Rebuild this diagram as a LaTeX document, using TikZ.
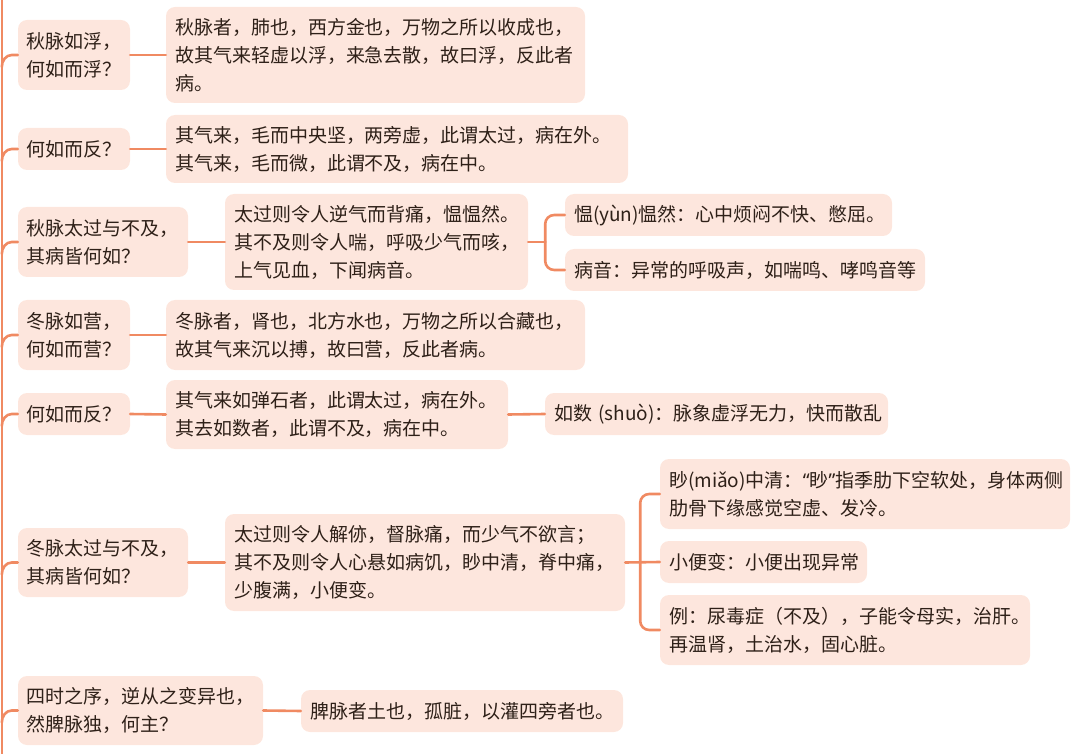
\documentclass[tikz,border=0pt]{standalone}
\usepackage{fontspec}
\setmainfont{Noto Sans CJK SC}
\newfontfamily\latinf{Noto Sans}
\usetikzlibrary{calc}
\definecolor{boxfill}{HTML}{FDE6DD}
\definecolor{linecol}{HTML}{F08A62}
\definecolor{txt}{HTML}{2E2018}
\tikzset{
  box/.style={draw=none, fill=boxfill, rounded corners=9pt, inner xsep=9pt, inner ysep=0pt,
    align=left, text=txt, font=\fontsize{19}{28}\selectfont},
  conn/.style={draw=linecol, line width=2.6pt, line cap=round},
}
\begin{document}
\begin{tikzpicture}[x=1pt,y=-1pt]
\useasboundingbox (0,0) rectangle (1080,754);
% spine
\draw[conn] (2,-5) -- (2,760);
% row 1
\node[box, text width=94, minimum height=70] (A1) at (74,55) {秋脉如浮，\\何如而浮？};
\node[box, text width=401, minimum height=96] (B1) at (375.5,55) {秋脉者，肺也，西方金也，万物之所以收成也，\\故其气来轻虚以浮，来急去散，故曰浮，反此者\\病。};
% row 2
\node[box, text width=94, minimum height=42] (A2) at (74,149) {何如而反？};
\node[box, text width=444, minimum height=68] (B2) at (397,149) {其气来，毛而中央坚，两旁虚，此谓太过，病在外。\\其气来，毛而微，此谓不及，病在中。};
% row 3
\node[box, text width=152, minimum height=70] (A3) at (103,242) {秋脉太过与不及，\\其病皆何如？};
\node[box, text width=285, minimum height=96] (B3) at (376.5,242) {太过则令人逆气而背痛，愠愠然。\\其不及则令人喘，呼吸少气而咳，\\上气见血，下闻病音。};
\node[box, text width=309, minimum height=42] (C3a) at (728.5,215) {愠(yùn)愠然：心中烦闷不快、憋屈。};
\node[box, text width=342, minimum height=42] (C3b) at (745,270) {病音：异常的呼吸声，如喘鸣、哮鸣音等};
% row 4
\node[box, text width=94, minimum height=70] (A4) at (74,335) {冬脉如营，\\何如而营？};
\node[box, text width=401, minimum height=70] (B4) at (375.5,335) {冬脉者，肾也，北方水也，万物之所以合藏也，\\故其气来沉以搏，故曰营，反此者病。};
% row 5
\node[box, text width=94, minimum height=42] (A5) at (74,414) {何如而反？};
\node[box, text width=324, minimum height=69] (B5) at (337,414.5) {其气来如弹石者，此谓太过，病在外。\\其去如数者，此谓不及，病在中。};
\node[box, text width=325, minimum height=42] (C5) at (716.5,414) {如数~(shuò)：脉象虚浮无力，快而散乱};
% row 6
\node[box, text width=152, minimum height=69] (A6) at (103,562.5) {冬脉太过与不及，\\其病皆何如？};
\node[box, text width=382, minimum height=97] (B6) at (425,562.5) {太过则令人解㑊，督脉痛，而少气不欲言；\\其不及则令人心悬如病饥，眇中清，脊中痛，\\少腹满，小便变。};
\node[box, text width=392, minimum height=70] (C6a) at (865,494) {眇(miǎo)中清：{\latinf “}眇{\latinf ”}指季肋下空软处，身体两侧\\肋骨下缘感觉空虚、发冷。};
\node[box, text width=189, minimum height=42] (C6b) at (763.5,562) {小便变：小便出现异常};
\node[box, text width=352, minimum height=70] (C6c) at (845,630) {例：尿毒症（不及），子能令母实，治肝。\\再温肾，土治水，固心脏。};
% row 7
\node[box, text width=227, minimum height=69] (A7) at (140.5,710.5) {四时之序，逆从之变异也，\\然脾脉独，何主？};
\node[box, text width=304, minimum height=42] (B7) at (462,711) {脾脉者土也，孤脏，以灌四旁者也。};
% spine branches
\foreach \n in {A1,A2,A3,A4,A5,A6,A7}{
  \draw[conn] (\n.west) -- ++(-6,0) to[out=180,in=90] ($(\n.west)+(-16,12)$);
}
% A -> B
\foreach \a/\b in {A1/B1,A2/B2,A3/B3,A4/B4,A5/B5,A6/B6,A7/B7,B5/C5}{
  \draw[conn] (\a.east) -- (\b.west);
}
% brackets
\draw[conn] (B3.east) -- ++(17,0) coordinate (j3);
\draw[conn, rounded corners=9pt] (j3) |- (C3a.west);
\draw[conn, rounded corners=9pt] (j3) |- (C3b.west);
\draw[conn] (B6.east) -- (C6b.west);
\coordinate (j6) at ($(B6.east)+(15,0)$);
\draw[conn, rounded corners=9pt] (j6) |- (C6a.west);
\draw[conn, rounded corners=9pt] (j6) |- (C6c.west);
\end{tikzpicture}
\end{document}
